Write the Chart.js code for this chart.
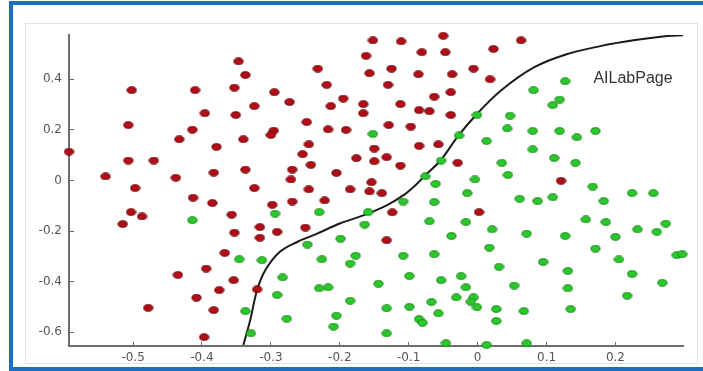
<!DOCTYPE html>
<html>
<head>
<meta charset="utf-8">
<title>Decision boundary</title>
<script src="https://cdn.jsdelivr.net/npm/chart.js@4/dist/chart.umd.min.js"></script>
<style>
  html, body { margin: 0; padding: 0; background: #fff; }
  body { width: 703px; height: 371px; position: relative; overflow: hidden; }
  .frame {
    position: absolute; left: 9px; top: 1px; width: 694px; height: 370px;
    box-sizing: border-box;
    border-top: 4px solid #1b6ec2; border-left: 4px solid #1b6ec2; border-bottom: 4px solid #1b6ec2;
  }
  .inner {
    position: absolute; left: 25px; top: 23px; width: 673px; height: 341px;
    box-sizing: border-box; border: 1px solid #e4e4e4;
  }
  #chart { position: absolute; left: 0; top: 0; }
</style>
</head>
<body>
<div class="frame"></div>
<div class="inner"></div>
<canvas id="chart" width="703" height="371"></canvas>
<script>
// ============================================================
// Data
// ============================================================
const redX = [
  -0.593, -0.502, -0.507, -0.507, -0.470, -0.540, -0.438, -0.433, -0.414, -0.410,
  -0.396, -0.379, -0.383, -0.353, -0.351, -0.347, -0.337, -0.340, -0.337, -0.497,
  -0.324, -0.324, -0.295, -0.273, -0.296, -0.300, -0.248, -0.245, -0.254, -0.242,
  -0.269, -0.271, -0.232, -0.219, -0.213, -0.195, -0.217, -0.191, -0.205, -0.176,
  -0.166, -0.166, -0.162, -0.152, -0.157, -0.150, -0.150, -0.132, -0.154, -0.129,
  -0.130, -0.125, -0.112, -0.111, -0.112, -0.097, -0.086, -0.085, -0.070, -0.081,
  -0.063, -0.050, -0.047, -0.037, -0.039, -0.039, -0.085, -0.057, -0.029, -0.006,
  0.023, 0.063, 0.018, 0.121, 0.002, -0.245, -0.185, -0.157, -0.139, -0.269,
  -0.222, -0.298, -0.357, -0.353, -0.316, -0.316, -0.291, -0.250, -0.124, -0.132,
  -0.354, -0.320, -0.413, -0.385, -0.503, -0.487, -0.515, -0.367, -0.394, -0.435,
  -0.375, -0.408, -0.478, -0.383, -0.397
];
const redY = [
  0.114, 0.357, 0.219, 0.079, 0.079, 0.016, 0.011, 0.163, 0.201, 0.357,
  0.266, 0.133, 0.031, 0.367, 0.259, 0.471, 0.417, 0.163, 0.043, -0.030,
  0.294, -0.030, 0.349, 0.310, 0.197, 0.180, 0.231, 0.143, 0.104, 0.062,
  0.043, 0.004, 0.442, 0.378, 0.294, 0.324, 0.202, 0.200, 0.030, 0.088,
  0.302, 0.266, 0.493, 0.554, 0.424, 0.126, 0.076, 0.092, -0.007, 0.219,
  0.378, 0.442, 0.302, 0.550, 0.059, 0.213, 0.420, 0.278, 0.274, 0.507,
  0.331, 0.572, 0.507, 0.420, 0.349, 0.259, 0.137, 0.143, 0.070, 0.442,
  0.520, 0.554, 0.400, -0.001, -0.125, -0.035, -0.035, -0.043, -0.050, -0.083,
  -0.079, -0.096, -0.135, -0.206, -0.184, -0.226, -0.203, -0.186, -0.126, -0.236,
  -0.394, -0.430, -0.068, -0.089, -0.125, -0.142, -0.172, -0.286, -0.348, -0.373,
  -0.433, -0.463, -0.503, -0.512, -0.619
];

const greenX = [
  -0.152, -0.027, -0.053, -0.076, -0.061, -0.001, -0.004, 0.127, 0.081, 0.119,
  0.109, 0.047, 0.043, 0.080, 0.119, 0.144, 0.171, 0.013, 0.080, 0.111,
  0.142, 0.035, 0.044, 0.167, -0.015, 0.061, 0.087, 0.109, 0.183, 0.224,
  0.255, -0.017, 0.021, 0.071, 0.127, 0.157, 0.186, 0.200, 0.232, 0.260,
  0.273, -0.038, 0.017, 0.171, 0.205, 0.289, 0.297, 0.095, 0.031, 0.131,
  0.224, -0.024, -0.017, 0.053, 0.131, 0.268, -0.031, -0.006, -0.010, -0.001,
  0.027, 0.067, 0.135, 0.217, 0.027, 0.013, 0.071, -0.046, -0.294, -0.230,
  -0.159, -0.108, -0.063, -0.164, -0.070, -0.247, -0.199, -0.346, -0.313, -0.226,
  -0.177, -0.185, -0.108, -0.063, -0.283, -0.230, -0.217, -0.144, -0.099, -0.053,
  -0.291, -0.185, -0.132, -0.099, -0.067, -0.057, -0.337, -0.277, -0.205, -0.209,
  -0.085, -0.080, -0.132, -0.329, -0.414
];
const greenY = [
  0.184, 0.178, 0.079, 0.016, -0.013, 0.259, 0.004, 0.392, 0.357, 0.320,
  0.298, 0.256, 0.206, 0.196, 0.196, 0.171, 0.196, 0.156, 0.123, 0.089,
  0.070, 0.070, 0.022, -0.024, -0.050, -0.072, -0.081, -0.066, -0.081, -0.050,
  -0.050, -0.164, -0.193, -0.210, -0.219, -0.154, -0.164, -0.223, -0.193, -0.203,
  -0.170, -0.219, -0.265, -0.269, -0.312, -0.295, -0.291, -0.322, -0.341, -0.357,
  -0.369, -0.378, -0.422, -0.415, -0.426, -0.404, -0.462, -0.462, -0.479, -0.501,
  -0.508, -0.516, -0.508, -0.455, -0.555, -0.650, -0.643, -0.643, -0.131, -0.125,
  -0.125, -0.083, -0.085, -0.174, -0.161, -0.253, -0.230, -0.311, -0.315, -0.311,
  -0.297, -0.328, -0.297, -0.291, -0.383, -0.426, -0.422, -0.408, -0.377, -0.394,
  -0.452, -0.475, -0.505, -0.499, -0.480, -0.525, -0.516, -0.546, -0.534, -0.577,
  -0.548, -0.562, -0.604, -0.604, -0.157
];

// decision boundary
const curveX = [
  -0.340, -0.330, -0.320, -0.308, -0.287, -0.262, -0.233, -0.200, -0.166, -0.132,
  -0.108, -0.088, -0.079, -0.054, -0.028, -0.001, 0.033, 0.081, 0.129, 0.178,
  0.226, 0.275, 0.298
];
const curveY = [
  -0.650, -0.551, -0.433, -0.354, -0.282, -0.243, -0.210, -0.170, -0.138, -0.098,
  -0.059, -0.013, 0.013, 0.079, 0.177, 0.263, 0.354, 0.446, 0.499, 0.531,
  0.554, 0.571, 0.574
];

const xTicks = [-0.5, -0.4, -0.3, -0.2, -0.1, 0, 0.1, 0.2];
const yTicks = [-0.6, -0.4, -0.2, 0, 0.2, 0.4];
const watermark = 'AILabPage';

// ============================================================
// Helpers
// ============================================================
function toPoints(xs, ys) {
  return xs.map((x, i) => ({ x, y: ys[i] }));
}

// slightly flattened dot, like the source image
function dot(fill, edge) {
  const c = document.createElement('canvas');
  c.width = 11;
  c.height = 8;
  const g = c.getContext('2d');
  g.beginPath();
  g.ellipse(5.5, 4, 4.6, 3.3, 0, 0, Math.PI * 2);
  g.fillStyle = fill;
  g.fill();
  g.lineWidth = 1;
  g.strokeStyle = edge;
  g.stroke();
  return c;
}

function fmt(v) {
  return v === 0 ? '0' : v.toFixed(1);
}

const watermarkPlugin = {
  id: 'watermark',
  afterDatasetsDraw(chart) {
    const { ctx, scales: { x, y } } = chart;
    ctx.save();
    ctx.font = '16px "Liberation Sans", Arial, sans-serif';
    ctx.fillStyle = '#333';
    ctx.textBaseline = 'middle';
    ctx.fillText(watermark, x.getPixelForValue(0.168), y.getPixelForValue(0.402));
    ctx.restore();
  }
};

// ============================================================
// Chart
// ============================================================
const axisColor = '#6e6e6e';
const tickFont = { family: '"DejaVu Sans", sans-serif', size: 12 };

new Chart(document.getElementById('chart'), {
  type: 'scatter',
  data: {
    datasets: [
      {
        label: 'class A',
        data: toPoints(redX, redY),
        pointStyle: dot('#b30d18', '#6e0a0e'),
        clip: false
      },
      {
        label: 'class B',
        data: toPoints(greenX, greenY),
        pointStyle: dot('#2cc72c', '#168a16'),
        clip: false
      },
      {
        type: 'line',
        label: 'boundary',
        data: toPoints(curveX, curveY),
        borderColor: '#1a1a1a',
        borderWidth: 2,
        pointRadius: 0,
        tension: 0.35,
        fill: false
      }
    ]
  },
  options: {
    responsive: false,
    animation: false,
    devicePixelRatio: 1,
    layout: { padding: { top: 35, right: 20, left: 0, bottom: 0 } },
    plugins: {
      legend: { display: false },
      tooltip: { enabled: false }
    },
    scales: {
      x: {
        type: 'linear',
        min: -0.593,
        max: 0.298,
        afterBuildTicks: (scale) => { scale.ticks = xTicks.map(v => ({ value: v })); },
        afterFit: (scale) => { scale.height = 25; },
        // negative tick length puts the marks inside the plot
        ticks: { callback: fmt, color: '#555', font: tickFont, padding: 9, maxRotation: 0 },
        grid: { drawOnChartArea: false, drawTicks: true, tickLength: -4, color: axisColor, lineWidth: 1 },
        border: { color: axisColor, width: 2 }
      },
      y: {
        type: 'linear',
        min: -0.654,
        max: 0.575,
        afterBuildTicks: (scale) => { scale.ticks = yTicks.map(v => ({ value: v })); },
        afterFit: (scale) => { scale.width = 69; },
        ticks: { callback: fmt, color: '#555', font: tickFont, padding: 12 },
        grid: { drawOnChartArea: false, drawTicks: true, tickLength: -5, color: axisColor, lineWidth: 1 },
        border: { color: axisColor, width: 2 }
      }
    }
  },
  plugins: [watermarkPlugin]
});
</script>
</body>
</html>
